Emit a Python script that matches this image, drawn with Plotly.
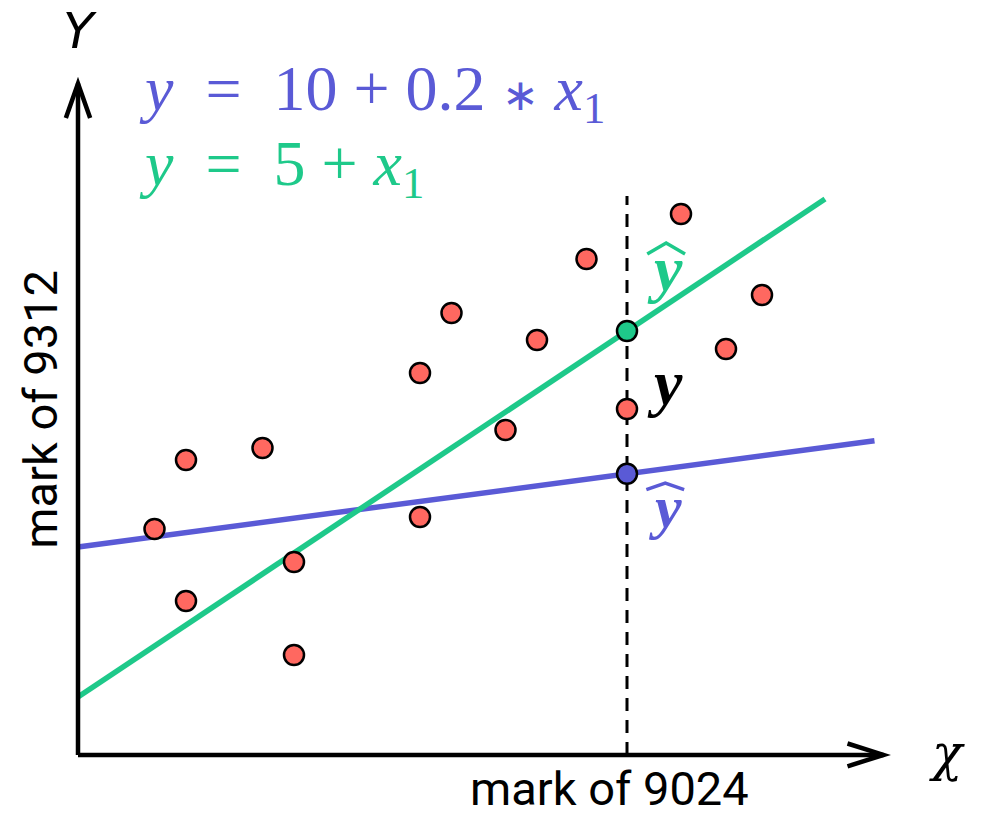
import plotly.graph_objects as go

# Observed scores (x: mark of 9024, y: mark of 9312)
obs_x = [1.7, 2.4, 2.4, 4.1, 4.8, 4.8, 7.6, 7.6, 8.3, 9.5, 10.2, 11.3, 12.2, 13.4, 14.4, 15.2]
obs_y = [10.6, 12.9, 8.2, 13.3, 9.5, 6.4, 15.8, 11.0, 17.8, 13.9, 16.9, 19.6, 14.6, 21.1, 16.6, 18.4]

# Two candidate regression lines: y = intercept + slope * x1
blue_intercept, blue_slope = 10, 0.2
green_intercept, green_slope = 5, 1
blue_x_end = 17.7
green_x_end = 16.6

# Point where predictions are compared
x_pick = 12.2

BLUE = "#5A5AD6"
GREEN = "#1EC98A"
RED = "#FF6860"

# Axis frame (data units)
ax_x0, ax_y0 = 0.0, 3.07
ax_x1, ax_y1 = 17.9, 25.45
xr = [-78 / 45, 909 / 45]
yr = [(847 - 821) / 30, 847 / 30]

fig = go.Figure()

# regression lines
fig.add_trace(go.Scatter(
    x=[0, blue_x_end],
    y=[blue_intercept + blue_slope * 0, blue_intercept + blue_slope * blue_x_end],
    mode="lines", line=dict(color=BLUE, width=5.5), hoverinfo="skip"))
fig.add_trace(go.Scatter(
    x=[0, green_x_end],
    y=[green_intercept + green_slope * 0, green_intercept + green_slope * green_x_end],
    mode="lines", line=dict(color=GREEN, width=5.5), hoverinfo="skip"))

# vertical dashed guide at x_pick
fig.add_shape(type="line", x0=x_pick, x1=x_pick, y0=ax_y0, y1=21.7,
              line=dict(color="black", width=3, dash="13px,9px"), layer="below")

# observations
fig.add_trace(go.Scatter(
    x=obs_x, y=obs_y, mode="markers",
    marker=dict(size=20, color=RED, line=dict(color="black", width=2.5))))

# predicted values at x_pick
fig.add_trace(go.Scatter(
    x=[x_pick, x_pick],
    y=[green_intercept + green_slope * x_pick, blue_intercept + blue_slope * x_pick],
    mode="markers",
    marker=dict(size=20, color=[GREEN, BLUE], line=dict(color="black", width=2.5))))

# axes with open arrow heads
axis_line = dict(color="black", width=4.5)
fig.add_shape(type="line", x0=ax_x0, y0=ax_y0, x1=ax_x0, y1=ax_y1, line=axis_line)
fig.add_shape(type="line", x0=ax_x0, y0=ax_y0, x1=ax_x1, y1=ax_y0, line=axis_line)
fig.add_shape(type="path",
              path=f"M {ax_x0 - 0.27},{ax_y1 - 1.15} L {ax_x0},{ax_y1} L {ax_x0 + 0.27},{ax_y1 - 1.15}",
              line=axis_line)
fig.add_shape(type="path",
              path=f"M {ax_x1 - 0.8},{ax_y0 + 0.38} L {ax_x1},{ax_y0} L {ax_x1 - 0.8},{ax_y0 - 0.38}",
              line=axis_line)

# wide hats over the predicted-value labels
def hat(xc, ytop, color, half_w=0.42, drop=0.36):
    fig.add_shape(type="path",
                  path=f"M {xc - half_w},{ytop - drop} L {xc},{ytop} L {xc + half_w},{ytop - drop}",
                  line=dict(color=color, width=3.5))

hat(13.07, 20.13, GREEN)
hat(13.05, 12.13, BLUE, drop=0.22)

serif = "Liberation Serif"
sans = "Roboto"
star = "<span style='font-size:44px'>∗</span>"

annotations = [
    dict(x=0.05, y=27.2, text="<i>Y</i>", font=dict(family="DejaVu Sans", size=50, color="black")),
    dict(x=19.3, y=3.15, text="<i>χ</i>", font=dict(family="DejaVu Serif", size=50, color="black")),
    dict(x=1.3, y=25.15, xanchor="left",
         text=f"<i>y</i>  =  10 + 0.2 {star} <i>x</i><sub>1</sub>",
         font=dict(family=serif, size=64, color=BLUE)),
    dict(x=1.3, y=22.62, xanchor="left",
         text="<i>y</i>  =  5 + <i>x</i><sub>1</sub>", font=dict(family=serif, size=64, color=GREEN)),
    dict(x=11.8, y=0.97, yanchor="bottom", text="mark of 9024",
         font=dict(family=sans, size=47, color="black")),
    dict(x=-0.85, y=14.6, text="mark of 9312", textangle=-90,
         font=dict(family=sans, size=47, color="black")),
    dict(x=13.05, y=19.3, text="<b><i>y</i></b>", font=dict(family=serif, size=64, color=GREEN)),
    dict(x=13.05, y=15.5, text="<b><i>y</i></b>", font=dict(family=serif, size=64, color="black")),
    dict(x=13.05, y=11.32, text="<b><i>y</i></b>", font=dict(family=serif, size=60, color=BLUE)),
]
for a in annotations:
    a.setdefault("showarrow", False)
    a.setdefault("xref", "x")
    a.setdefault("yref", "y")
    fig.add_annotation(**a)

fig.update_layout(
    width=987, height=821,
    margin=dict(l=0, r=0, t=0, b=0),
    showlegend=False,
    plot_bgcolor="white", paper_bgcolor="white",
    xaxis=dict(range=xr, visible=False, fixedrange=True),
    yaxis=dict(range=yr, visible=False, fixedrange=True),
)

fig.write_html("out.html")
